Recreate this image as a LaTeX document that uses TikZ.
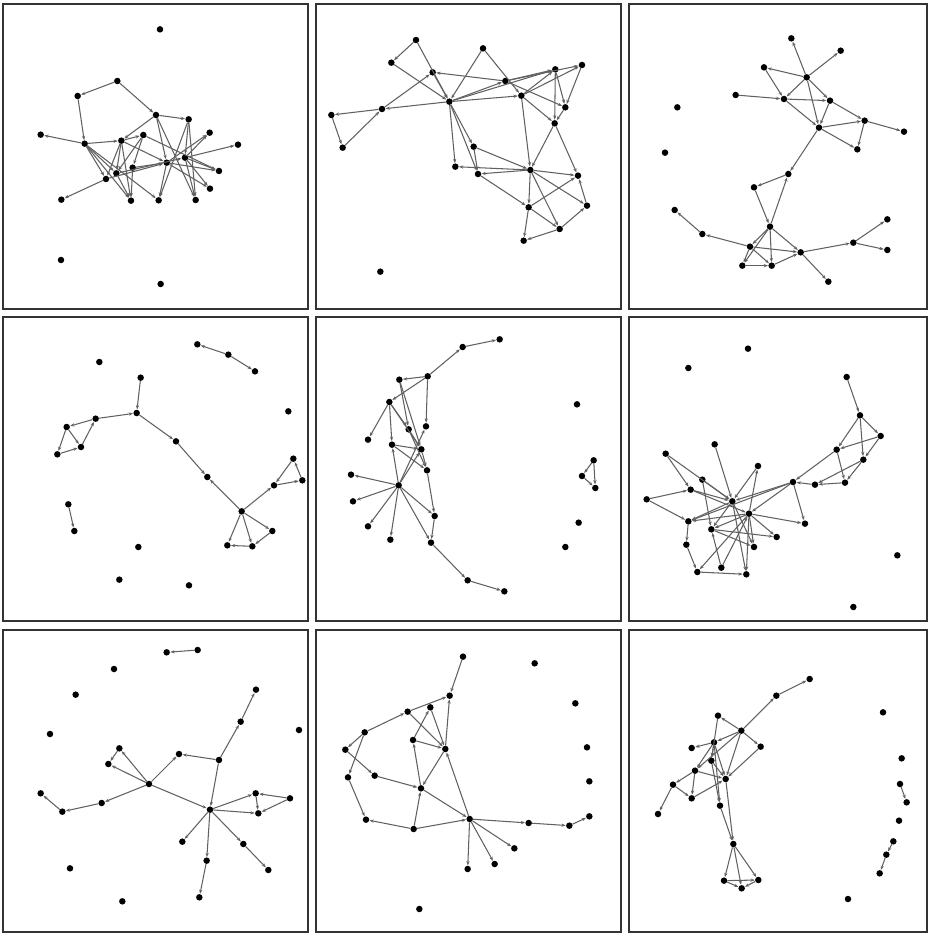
\documentclass[tikz,border=0pt]{standalone}
\usetikzlibrary{arrows.meta}
\tikzset{
  dot/.style={circle,fill=black,inner sep=0pt,minimum size=6.5pt},
  edge/.style={draw=black!62,line width=1.05pt,-{Stealth[length=4.2pt,width=3.2pt]},shorten >=0.2pt},
  frame/.style={draw=black!80,line width=1.5pt},
  panel/.style={x=0.33333pt,y=-0.33333pt}
}
\begin{document}
\begin{tikzpicture}[x=1pt,y=-1pt]
\useasboundingbox (0,0) rectangle (929,934);
\fill[white] (0,0) rectangle (929,934);
% frames
\draw[frame] (3,4) rectangle (308,309);
\draw[frame] (316,4) rectangle (621,309);
\draw[frame] (629,4) rectangle (927,309);
\draw[frame] (3,317) rectangle (308,621);
\draw[frame] (316,317) rectangle (621,621);
\draw[frame] (629,317) rectangle (927,621);
\draw[frame] (3,630) rectangle (308,932);
\draw[frame] (316,630) rectangle (621,932);
\draw[frame] (629,630) rectangle (927,932);

% ---------- Panel 1 ----------
\begin{scope}[shift={(0,0)},panel]
\foreach \n/\x/\y in {A/352/243,B/233/288,C/468/345,D/566/358,E/122/404,F/254/431,G/364/422,H/430/405,I/629/398,J/714/434,K/500/488,L/555/473,M/398/503,N/349/520,O/318/537,P/657/513,Q/630/566,R/184/599,S/393/602,T/476/601,U/587/600,z1/480/88,z2/183/780,z3/482/852}
  \node[dot] (P1\n) at (\x,\y) {};
\foreach \s/\t in {A/B,A/C,B/F,F/E,C/D,C/G,C/K,C/U,D/L,D/T,D/U,F/G,F/O,F/N,F/S,F/T,G/H,G/N,G/O,G/K,H/P,H/N,H/M,M/K,M/S,O/K,N/L,N/S,O/R,K/I,L/I,L/J,K/T,L/Q,L/U,K/P,L/P,K/Q,G/S}
  \draw[edge] (P1\s) -- (P1\t);
\end{scope}

% ---------- Panel 2 ----------
\begin{scope}[shift={(312,0)},panel]
\foreach \n/\x/\y in {a/312/120,b/238/188,c/362/217,d/513/145,e/580/243,f/730/208,g/810/195,h/628/287,i/412/305,j/210/327,k/58/345,l/92/443,m/760/322,n/728/370,o/485/440,p/430/500,q/498/522,r/655/510,s/798/527,t/650/622,u/825/617,v/743/687,w/635/722,z1/205/815}
  \node[dot] (P2\n) at (\x,\y) {};
\foreach \s/\t in {a/b,a/i,b/i,j/c,e/c,d/i,d/h,i/j,j/k,k/l,l/j,i/e,i/h,i/f,e/f,e/g,h/f,h/g,f/m,g/m,f/n,e/m,h/n,h/r,n/r,n/s,m/n,i/o,i/p,i/q,o/q,o/r,r/p,r/q,r/s,r/t,r/u,r/v,t/w,t/v,q/t,t/s,u/s,v/u,v/w,c/i}
  \draw[edge] (P2\s) -- (P2\t);
\end{scope}

% ---------- Panel 3 ----------
\begin{scope}[shift={(624,0)},panel]
\foreach \n/\x/\y in {a/502/115,b/650/152,c/420/202,d/548/232,e/335/285,f/480/297,g/618/302,h/585/383,i/722/362,j/840/395,k/700/448,l/493/522,m/390/562,n/438/680,o/152/630,p/235/702,q/378/740,r/530/757,s/688/728,t/790/658,u/790/750,v/355/797,w/443/797,x/613/845,z1/160/322,z2/123/458}
  \node[dot] (P3\n) at (\x,\y) {};
\foreach \s/\t in {d/a,d/b,d/c,d/f,c/f,e/f,f/g,f/h,d/h,d/g,g/h,g/i,h/i,h/k,i/k,i/j,h/l,l/m,n/l,m/n,n/q,n/r,n/w,n/v,q/p,p/o,q/r,q/w,q/v,v/w,w/r,r/s,r/x,s/t,s/u}
  \draw[edge] (P3\s) -- (P3\t);
\end{scope}

% ---------- Panel 4 ----------
\begin{scope}[shift={(0,312)},panel]
\foreach \n/\x/\y in {a/592/97,b/685/128,c/765/178,d/422/197,e/410/303,f/287/320,g/200/345,h/243/405,i/172/427,j/528/388,k/622/495,l/725/598,m/880/440,n/822/520,o/907/505,p/817/657,q/757/703,r/682/700,s/205/577,t/223/657,z1/298/150,z2/865/298,z3/415/705,z4/358/803,z5/567/820}
  \node[dot] (P4\n) at (\x,\y) {};
\foreach \s/\t in {b/a,b/c,d/e,f/g,g/h,h/f,g/i,i/h,f/e,e/j,j/k,l/k,m/n,n/o,o/m,l/n,l/p,l/q,l/r,p/q,q/r,s/t}
  \draw[edge] (P4\s) -- (P4\t);
\end{scope}

% ---------- Panel 5 ----------
\begin{scope}[shift={(312,312)},panel]
\foreach \n/\x/\y in {a/563/82,b/452/105,c/347/193,d/262/203,e/232/270,f/342/343,g/290/352,h/168/383,i/240/398,j/328/412,k/345/475,l/117/488,m/260/520,n/123/568,o/368/612,p/168/643,q/235/683,r/357/692,s/467/805,t/577/838,u/845/445,v/810/492,w/850/528,z1/795/277,z2/800/632,z3/760/705}
  \node[dot] (P5\n) at (\x,\y) {};
\foreach \s/\t in {b/a,c/b,c/d,c/e,c/f,d/g,g/k,e/h,e/i,e/g,e/j,g/j,i/j,i/k,j/k,m/f,m/j,m/l,m/n,m/p,m/q,m/i,m/o,m/r,k/o,o/r,r/s,s/t,d/j,u/v,v/w,u/w}
  \draw[edge] (P5\s) -- (P5\t);
\end{scope}

% ---------- Panel 6 ----------
\begin{scope}[shift={(624,312)},panel]
\foreach \n/\x/\y in {a/668/195,b/708/310,c/770/372,d/638/413,e/718/443,f/272/397,g/125/425,h/402/462,i/235/503,j/507/510,k/573/518,l/663/512,m/200/533,n/68/562,o/325/568,p/375/605,q/543/635,r/193/628,s/262/652,t/458/675,u/187/698,v/390/705,w/292/767,x/220/780,y/367/787,z1/372/110,z2/193/168,z3/820/730,z4/688/885}
  \node[dot] (P6\n) at (\x,\y) {};
\foreach \s/\t in {a/b,b/c,b/d,b/e,c/d,c/e,d/l,e/l,d/j,e/k,l/k,k/j,j/o,j/p,j/q,j/r,h/o,p/h,f/o,g/m,g/o,n/m,n/r,m/o,m/p,i/o,i/s,o/r,o/s,o/v,o/y,p/r,p/s,p/t,p/y,p/x,p/v,p/q,s/t,s/v,r/u,u/x,x/y,w/s,w/p}
  \draw[edge] (P6\s) -- (P6\t);
\end{scope}

% ---------- Panel 7 ----------
\begin{scope}[shift={(0,624)},panel]
\foreach \n/\x/\y in {a/593/78,b/500/85,c/768/197,d/722/293,e/657/408,f/537/390,g/358/373,h/325/420,i/447/480,j/122/508,k/187/563,l/305/537,m/630/557,n/767/508,o/870/523,p/775/568,q/547/653,r/730/660,s/805/738,t/620/710,u/598/820,z1/342/135,z2/227/212,z3/150/330,z4/897/318,z5/210/733,z6/367/832}
  \node[dot] (P7\n) at (\x,\y) {};
\foreach \s/\t in {a/b,d/c,e/d,e/f,i/f,e/m,g/h,i/g,i/h,i/l,l/k,k/j,i/m,m/n,m/p,o/n,n/p,o/p,m/q,m/r,r/s,m/t,t/u}
  \draw[edge] (P7\s) -- (P7\t);
\end{scope}

% ---------- Panel 8 ----------
\begin{scope}[shift={(312,624)},panel]
\foreach \n/\x/\y in {a/453/98,b/413/215,c/355/250,d/287/263,e/158/325,f/303/348,g/400/375,h/100/377,i/108/460,j/188/455,k/327/493,l/162/587,m/305/615,n/473/585,o/650/597,p/772/605,q/832/577,r/607/673,s/548/720,t/467/735,z1/668/118,z2/790/238,z3/825/370,z4/832/472,z5/322/855}
  \node[dot] (P8\n) at (\x,\y) {};
\foreach \s/\t in {a/b,d/b,e/d,e/h,h/j,e/i,i/l,m/l,m/n,m/k,k/f,f/c,c/g,f/g,g/b,d/g,g/k,j/k,k/n,n/g,n/o,o/p,p/q,n/r,n/s,n/t}
  \draw[edge] (P8\s) -- (P8\t);
\end{scope}

% ---------- Panel 9 ----------
\begin{scope}[shift={(624,624)},panel]
\foreach \n/\x/\y in {a/557/165,b/457/215,c/282/275,d/352/320,e/410/368,f/270/355,g/203/372,h/262/410,i/213/440,j/305/465,k/147/482,l/203/523,m/288/545,n/102/570,o/328/660,p/300/770,q/403/768,r/353/793,s/828/480,t/848/535,u/808/652,v/787/692,w/767/748,z1/777/265,z2/833/403,z3/825/590,z4/672/825}
  \node[dot] (P9\n) at (\x,\y) {};
\foreach \s/\t in {b/a,d/b,d/c,c/h,d/f,d/e,d/j,d/i,e/j,f/g,f/h,f/j,f/i,f/m,h/j,h/m,i/k,i/l,i/j,k/l,k/n,l/j,j/o,m/o,o/p,o/q,o/r,p/q,p/r,q/r,s/t,u/v,v/w}
  \draw[edge] (P9\s) -- (P9\t);
\end{scope}
\end{tikzpicture}
\end{document}
